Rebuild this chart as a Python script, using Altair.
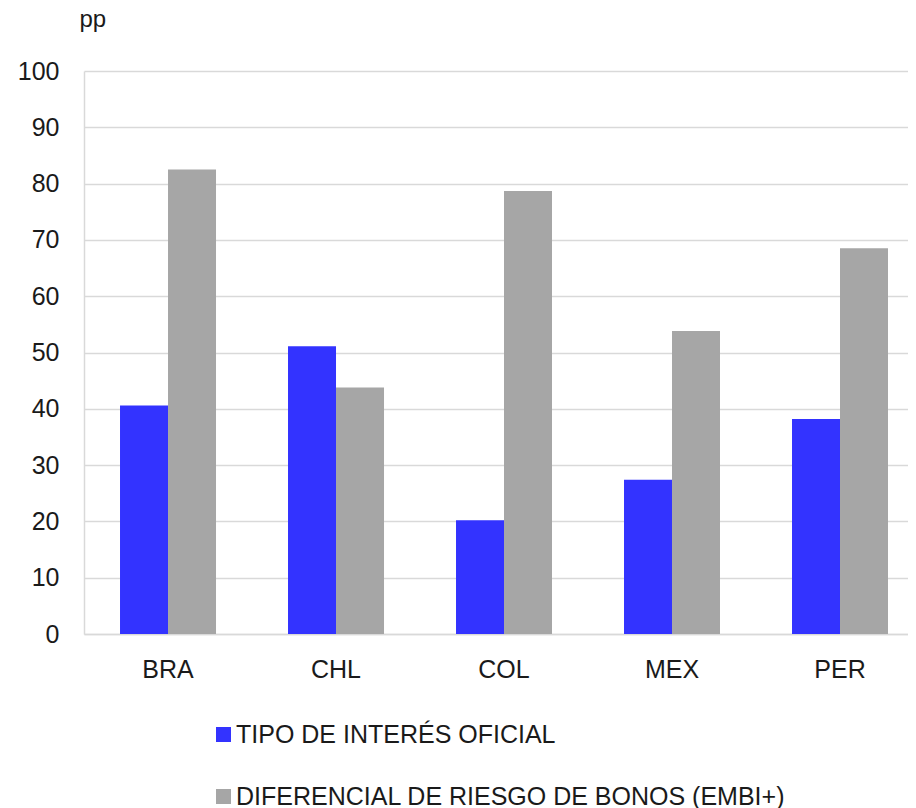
import altair as alt
import pandas as pd

countries = ["BRA", "CHL", "COL", "MEX", "PER"]
series_names = ["TIPO DE INTERÉS OFICIAL", "DIFERENCIAL DE RIESGO DE BONOS (EMBI+)"]
tipo_interes = [40.6, 51.1, 20.2, 27.4, 38.2]
embi = [82.5, 43.8, 78.7, 53.8, 68.5]
colors = ["#3333FF", "#A6A6A6"]
y_ticks = [0, 10, 20, 30, 40, 50, 60, 70, 80, 90, 100]

rows = []
for c, a, b in zip(countries, tipo_interes, embi):
    rows.append({"pais": c, "serie": series_names[0], "valor": a})
    rows.append({"pais": c, "serie": series_names[1], "valor": b})
df = pd.DataFrame(rows)

FONT = "Liberation Sans"
TXT = "#1a1a1a"
GRID = "#d9d9d9"
FS = 25

chart = alt.Chart(df).mark_bar().encode(
    x=alt.X("pais:N", sort=countries,
            scale=alt.Scale(paddingInner=0.4286, paddingOuter=0.1667, align=0.643),
            axis=alt.Axis(title=None, labelAngle=0, ticks=False, labelPadding=23,
                          labelFontSize=FS, labelFont=FONT, labelColor=TXT,
                          domainColor=GRID, domainWidth=1.5, grid=False)),
    xOffset=alt.XOffset("serie:N", sort=series_names,
                        scale=alt.Scale(paddingInner=0, paddingOuter=0)),
    y=alt.Y("valor:Q", scale=alt.Scale(domain=[0, 100], nice=False),
            axis=alt.Axis(title="pp", titleAngle=0, titleAlign="left",
                          titleBaseline="alphabetic", titleX=-5, titleY=-45,
                          titleFontSize=24, titleFont=FONT, titleColor=TXT,
                          titleFontWeight="normal",
                          values=y_ticks, ticks=False, labelPadding=25,
                          labelFontSize=FS, labelFont=FONT, labelColor=TXT,
                          domainColor=GRID, domainWidth=1.5,
                          gridColor=GRID, gridWidth=1.5)),
    color=alt.Color("serie:N", sort=series_names,
                    scale=alt.Scale(domain=series_names, range=colors),
                    legend=alt.Legend(title=None, orient="none", legendX=127, legendY=651,
                                      direction="vertical", symbolType="square",
                                      symbolSize=225, symbolStrokeWidth=0,
                                      labelFontSize=FS, labelFont=FONT, labelColor=TXT,
                                      labelOffset=0, rowPadding=36, labelLimit=800)),
).properties(
    width=824, height=563,
    padding={"left": 76, "top": 63, "right": 0, "bottom": 182},
    autosize=alt.AutoSizeParams(type="none"),
).configure_view(stroke=None)

chart.save("out.html", embed_options={"renderer": "svg", "actions": False})
